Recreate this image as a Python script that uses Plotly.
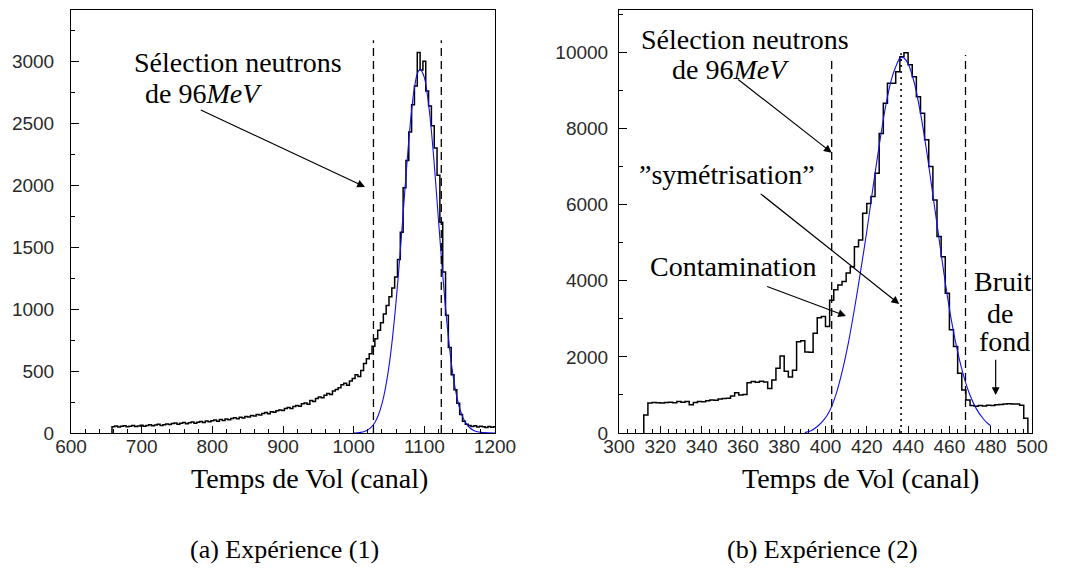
import numpy as np
import plotly.graph_objects as go

# ---------------- data: experiment (1) ----------------
bin_w_a = 4
first_edge_a = 658
counts_a = [
    50, 56, 48, 55, 58, 51, 54, 60, 52, 57,
    62, 55, 60, 66, 58, 64, 70, 61, 67, 72,
    68, 76, 80, 71, 78, 84, 75, 82, 88, 79,
    86, 93, 84, 97, 90, 99, 104, 95, 108, 101,
    112, 106, 118, 124, 115, 128, 121, 134, 130, 141,
    138, 150, 146, 158, 165, 155, 172, 168, 180, 186,
    182, 197, 205, 198, 214, 222, 215, 236, 242, 233,
    262, 255, 278, 290, 284, 305, 318, 310, 338, 352,
    365, 390, 402, 385, 420, 440, 470, 455, 505, 560,
    600, 640, 700, 760, 830, 890, 960, 1030, 1100, 1170,
    1260, 1400, 1620, 1980, 2200, 2430, 2650, 2800, 3070, 2930,
    3000, 2760, 2640, 2480, 2300, 2080, 1700, 1300, 950, 690,
    470, 350, 240, 150, 95, 70, 60, 52, 58, 48,
    55, 50, 45, 52, 46, 50,
]
fit_x_a = [1000, 1005, 1010, 1015, 1020, 1025, 1030, 1035, 1040, 1045, 1050, 1055,
           1060, 1065, 1070, 1075, 1080, 1085, 1090, 1094, 1100, 1105, 1110, 1115,
           1120, 1125, 1130, 1135, 1140, 1145, 1150, 1155, 1160, 1165, 1170, 1175,
           1180, 1190, 1200]
fit_y_a = [0, 2, 5, 12, 25, 48, 85, 145, 235, 365, 540, 770,
           1060, 1400, 1770, 2150, 2490, 2750, 2900, 2935, 2870, 2700, 2440, 2100,
           1720, 1350, 1010, 720, 490, 320, 200, 120, 70, 38, 20, 10,
           5, 1, 0]
cuts_a = [1028, 1124]
cut_top_a = [3170, 3170]

# ---------------- data: experiment (2) ----------------
bin_w_b = 2
first_edge_b = 312
counts_b = [
    470, 790, 800, 795, 790, 800, 805, 795, 825, 810,
    830, 745, 800, 830, 820, 850, 870, 860, 890, 905,
    915, 975, 1060, 1000, 1010, 1320, 1350, 1330, 1360, 1340,
    1170, 1390, 1700, 2020, 1620, 1470, 1650, 2400, 2420, 2130,
    2120, 2620, 3030, 3060, 2800, 3490, 3760, 3890, 3980, 4200,
    4370, 4890, 5070, 5770, 6030, 6210, 6820, 7870, 8660, 9190,
    9190, 9490, 9880, 9990, 9670, 9360, 8830, 8400, 7700, 7000,
    6120, 5160, 4630, 3670, 2710, 2270, 1570, 1130, 870, 720,
    700, 720, 710, 730, 720, 740, 750, 760, 770, 760,
    760, 730, 390,
]
fit_x_b = [390, 393, 396, 399, 402, 405, 408, 411, 414, 417, 420, 423, 426, 429,
           432, 434, 436, 437, 438, 440, 443, 446, 449, 452, 455, 458, 461, 464,
           467, 470, 473, 476, 478, 480]
fit_y_b = [10, 60, 170, 330, 580, 1000, 1600, 2350, 3250, 4250, 5300, 6450, 7550, 8550,
           9300, 9620, 9850, 9870, 9850, 9700, 9200, 8400, 7400, 6250, 5100, 3950, 2950, 2130,
           1480, 990, 640, 400, 280, 190]
cuts_b = [403.0, 467.8]
cut_top_b = [9800, 9930]
sym_b = 436.6
sym_top_b = 9975

x_title = "Temps de Vol (canal)"
captions = ["(a) Expérience (1)", "(b) Expérience (2)"]

SERIF = "Liberation Serif"
SANS = "Liberation Sans"

# page offset (default body margin) and figure size
OFF = 8
W, H = 1065 - OFF, 568 - OFF


def px(X):
    return (X - OFF) / W


def py(Y):
    return 1 - (Y - OFF) / H


def step_xy(first_edge, width, counts):
    edges = first_edge + width * np.arange(len(counts) + 1)
    xs = np.concatenate([[edges[0]], edges[:-1], [edges[-1]], [edges[-1]]])
    ys = np.concatenate([[0], counts, [counts[-1]], [0]])
    return xs, ys


fig = go.Figure()

# --- panel (a)
hx, hy = step_xy(first_edge_a, bin_w_a, counts_a)
fig.add_trace(go.Scatter(x=hx, y=hy, mode="lines", line=dict(color="black", width=1.5, shape="hv"),
                         xaxis="x", yaxis="y", hoverinfo="skip"))
fig.add_trace(go.Scatter(x=fit_x_a, y=fit_y_a, mode="lines",
                         line=dict(color="#1010ee", width=1.1, shape="spline", smoothing=0.8),
                         xaxis="x", yaxis="y", hoverinfo="skip"))
for c, t in zip(cuts_a, cut_top_a):
    fig.add_trace(go.Scatter(x=[c, c], y=[0, t], mode="lines",
                             line=dict(color="black", width=1.3, dash="8px,5px"),
                             xaxis="x", yaxis="y", hoverinfo="skip"))

# --- panel (b)
hx, hy = step_xy(first_edge_b, bin_w_b, counts_b)
fig.add_trace(go.Scatter(x=hx, y=hy, mode="lines", line=dict(color="black", width=1.5, shape="hv"),
                         xaxis="x2", yaxis="y2", hoverinfo="skip"))
fig.add_trace(go.Scatter(x=fit_x_b, y=fit_y_b, mode="lines",
                         line=dict(color="#1010ee", width=1.1, shape="spline", smoothing=0.8),
                         xaxis="x2", yaxis="y2", hoverinfo="skip"))
for c, t in zip(cuts_b, cut_top_b):
    fig.add_trace(go.Scatter(x=[c, c], y=[0, t], mode="lines",
                             line=dict(color="black", width=1.3, dash="8px,5px"),
                             xaxis="x2", yaxis="y2", hoverinfo="skip"))
fig.add_trace(go.Scatter(x=[sym_b, sym_b], y=[0, sym_top_b], mode="lines",
                         line=dict(color="black", width=1.6, dash="2px,4px"),
                         xaxis="x2", yaxis="y2", hoverinfo="skip"))

tick_font = dict(family=SANS, size=19, color="#2a2a2a")
axis_common = dict(showline=True, linecolor="black", linewidth=1, mirror=True,
                   ticks="inside", tickcolor="black", showgrid=False, zeroline=False,
                   tickfont=tick_font, automargin=False)

ydom = [py(433), py(10)]
fig.update_layout(
    width=W, height=H,
    margin=dict(l=0, r=0, t=0, b=0, autoexpand=False),
    paper_bgcolor="white", plot_bgcolor="white",
    showlegend=False,
    xaxis=dict(domain=[px(71), px(495)], range=[600, 1200], anchor="y",
               tick0=600, dtick=100, ticklen=7, ticklabelstandoff=-4,
               minor=dict(dtick=20, ticklen=4, ticks="inside", tickcolor="black"),
               **axis_common),
    yaxis=dict(domain=ydom, range=[0, 3414], anchor="x",
               tick0=0, dtick=500, ticklen=8, ticklabelstandoff=12, tickformat="d",
               minor=dict(dtick=250, ticklen=4, ticks="inside", tickcolor="black"),
               **axis_common),
    xaxis2=dict(domain=[px(619), px(1032)], range=[300, 500], anchor="y2",
                tick0=300, dtick=20, ticklen=7, ticklabelstandoff=-4,
                minor=dict(dtick=4, ticklen=4, ticks="inside", tickcolor="black"),
                **axis_common),
    yaxis2=dict(domain=ydom, range=[0, 11111], anchor="x2",
                tick0=0, dtick=2000, ticklen=8, ticklabelstandoff=6, tickformat="d",
                minor=dict(dtick=1000, ticklen=4, ticks="inside", tickcolor="black"),
                **axis_common),
)

txt_font = dict(family=SERIF, size=28, color="black")
ann = []


def label(text, x, y, xr, yr, font=txt_font):
    ann.append(dict(text=text, x=x, y=y, xref=xr, yref=yr, showarrow=False,
                    xanchor="center", yanchor="middle", font=font))


def arrow(x0, y0, x1, y1, xr, yr):
    ann.append(dict(text="", x=x1, y=y1, ax=x0, ay=y0, xref=xr, yref=yr,
                    axref=xr, ayref=yr, showarrow=True, arrowhead=2, arrowsize=1.3,
                    arrowwidth=1.2, arrowcolor="black", standoff=0))


# panel (a) annotations
label("Sélection neutrons", 836, 2992, "x", "y")
label("de 96<i>MeV</i>", 788, 2742, "x", "y")
arrow(781.5, 2613, 1016, 1986, "x", "y")

# panel (b) annotations
label("Sélection neutrons", 361, 10324, "x2", "y2")
label("de 96<i>MeV</i>", 354, 9536, "x2", "y2")
arrow(357, 9318, 403.0, 7364, "x2", "y2")
label("”symétrisation”", 352.5, 6778, "x2", "y2")
arrow(367.9, 6313, 435.7, 3389, "x2", "y2")
label("Contamination", 355.4, 4369, "x2", "y2")
arrow(371, 3862, 409.9, 3074, "x2", "y2")
label("Bruit", 486, 3975, "x2", "y2")
label("de", 484.5, 3145, "x2", "y2")
label("fond", 486.9, 2398, "x2", "y2")
arrow(482.4, 1962, 482.4, 998, "x2", "y2")

# axis titles and captions (paper coordinates)
title_font = dict(family=SERIF, size=28, color="black")
cap_font = dict(family=SERIF, size=26, color="black")
for cx in (309, 860):
    ann.append(dict(text=x_title, x=px(cx), y=py(478), xref="paper", yref="paper",
                    showarrow=False, xanchor="center", yanchor="middle", font=title_font))
for cap, cx in zip(captions, (284, 822)):
    ann.append(dict(text=cap, x=px(cx), y=py(549), xref="paper", yref="paper",
                    showarrow=False, xanchor="center", yanchor="middle", font=cap_font))

fig.update_layout(annotations=ann)
fig.write_html("out.html")
